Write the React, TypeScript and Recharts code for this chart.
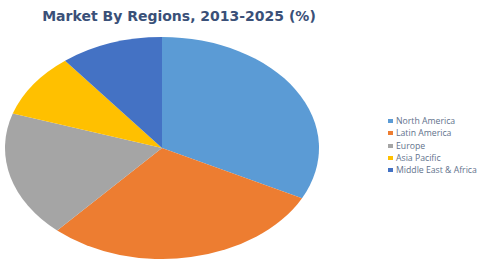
import React from 'react';
import { PieChart, Pie, Cell } from 'recharts';

const regions = ['North America', 'Latin America', 'Europe', 'Asia Pacific', 'Middle East & Africa'];
const shares = [32.5, 29.2, 18.4, 9.4, 10.6];
const colors = ['#5B9BD5', '#ED7D31', '#A5A5A5', '#FFC000', '#4472C4'];

const data = regions.map((name, i) => ({ name, value: shares[i] }));

// the original pie is squashed vertically, so the chart is scaled down on Y
const squash = 111 / 157;

const App: React.FC = () => {
  return (
    <div style={{ position: 'absolute', left: 0, top: 0, width: 478, height: 260, background: '#fff', overflow: 'hidden' }}>
      <div
        style={{
          position: 'absolute',
          left: 29,
          top: 8,
          width: 300,
          textAlign: 'center',
          fontFamily: 'DejaVu Sans',
          fontWeight: 'bold',
          fontSize: 14,
          color: '#3A5078',
          whiteSpace: 'nowrap',
        }}
      >
        Market By Regions, 2013-2025 (%)
      </div>

      <div style={{ position: 'absolute', left: 0, top: 37, transform: `scale(1, ${squash})`, transformOrigin: '0 0' }}>
        <PieChart width={324} height={316} margin={{ top: 0, right: 0, bottom: 0, left: 0 }}>
          <Pie
            data={data}
            dataKey="value"
            cx={162}
            cy={157}
            outerRadius={157}
            startAngle={90}
            endAngle={-270}
            stroke="none"
            isAnimationActive={false}
          >
            {data.map((d, i) => (
              <Cell key={d.name} fill={colors[i]} />
            ))}
          </Pie>
        </PieChart>
      </div>

      <div style={{ position: 'absolute', left: 388, top: 115, fontFamily: 'Open Sans', fontSize: 8.7, color: '#62728C' }}>
        {data.map((d, i) => (
          <div key={d.name} style={{ display: 'flex', alignItems: 'center', height: 12.3 }}>
            <span style={{ width: 5, height: 4, background: colors[i], marginRight: 3, display: 'inline-block' }} />
            <span style={{ whiteSpace: 'nowrap' }}>{d.name}</span>
          </div>
        ))}
      </div>
    </div>
  );
};

export default App;
